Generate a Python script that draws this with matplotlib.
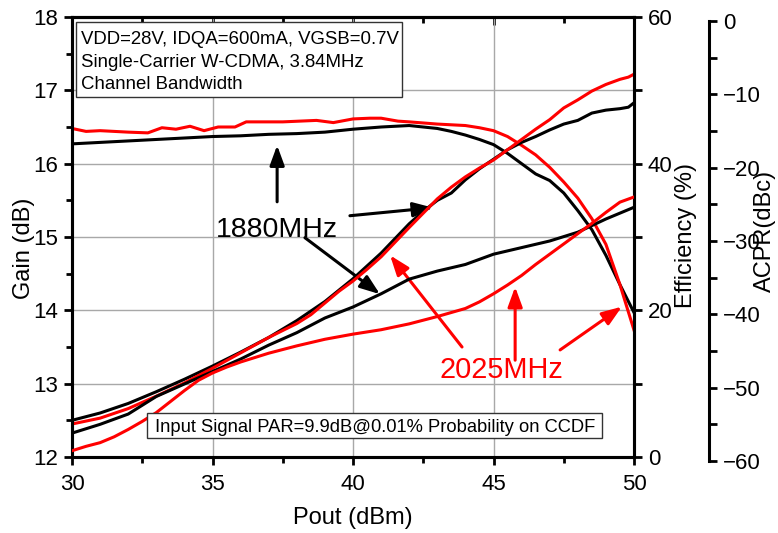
import matplotlib
matplotlib.use("Agg")
import matplotlib.pyplot as plt
from matplotlib.patches import Rectangle
from matplotlib.ticker import MultipleLocator

plt.rcParams['font.family'] = ['Liberation Sans', 'DejaVu Sans']

# ---------------- data ----------------
gain_1880_x = [30, 31, 32, 33, 34, 35, 36, 37, 38, 39, 40, 41, 42, 43, 43.5, 44, 44.5, 45,
               45.5, 46, 46.5, 47, 47.5, 48, 48.5, 49, 49.5, 50]
gain_1880 = [16.27, 16.29, 16.31, 16.33, 16.35, 16.37, 16.38, 16.40, 16.41, 16.43, 16.47, 16.50,
             16.52, 16.48, 16.44, 16.39, 16.33, 16.26, 16.14, 16.00, 15.86, 15.77, 15.60, 15.36,
             15.10, 14.75, 14.35, 13.97]

gain_2025_x = [30, 30.5, 31, 31.5, 32, 32.7, 33.2, 33.7, 34.2, 34.7, 35.2, 35.8, 36.2, 37.5,
               38.7, 39.3, 40, 40.6, 41, 41.6, 42, 43, 44, 44.5, 45, 45.5, 46, 46.5, 47, 47.5,
               48, 48.5, 49, 49.5, 50]
gain_2025 = [16.48, 16.44, 16.45, 16.44, 16.43, 16.42, 16.49, 16.47, 16.51, 16.45, 16.50, 16.50,
             16.57, 16.57, 16.59, 16.56, 16.61, 16.62, 16.62, 16.58, 16.57, 16.54, 16.52, 16.49,
             16.45, 16.37, 16.25, 16.12, 15.95, 15.75, 15.53, 15.25, 14.90, 14.35, 13.73]

eff_1880_x = [30, 31, 32, 33, 34, 35, 36, 37, 38, 39, 40, 41, 42, 42.5, 43, 43.5, 44, 44.5,
              45, 45.5, 46, 46.5, 47, 47.5, 48, 48.5, 49, 49.5, 49.8, 50]
eff_1880 = [5.0, 6.0, 7.3, 8.9, 10.6, 12.4, 14.3, 16.3, 18.6, 21.2, 24.3, 27.8, 31.8, 33.5,
            35.0, 36.0, 37.8, 39.3, 40.6, 41.9, 42.9, 43.7, 44.6, 45.4, 45.9, 46.9, 47.3,
            47.5, 47.7, 48.3]

eff_2025_x = [30, 31, 32, 33, 34, 35, 36, 37, 38, 38.5, 39, 39.5, 40, 40.5, 41, 42, 43, 43.5,
              44, 44.5, 45, 45.5, 46, 46.5, 47, 47.5, 48, 48.5, 49, 49.5, 49.8, 50]
eff_2025 = [4.5, 5.3, 6.6, 8.3, 10.1, 12.1, 14.2, 16.3, 18.2, 19.4, 21.0, 22.6, 24.0, 25.6,
            27.3, 31.3, 35.2, 36.8, 38.2, 39.4, 40.5, 41.9, 43.3, 44.7, 46.0, 47.6, 48.7,
            49.9, 50.8, 51.5, 51.8, 52.2]

acpr_1880_x = [30, 31, 32, 33, 34, 35, 36, 37, 38, 39, 40, 41, 42, 43, 44, 45, 46, 47, 48,
               48.5, 49, 49.5, 50]
acpr_1880 = [-56.2, -55.0, -53.6, -51.2, -49.5, -47.8, -46.1, -44.2, -42.5, -40.5, -39.0,
             -37.2, -35.2, -34.1, -33.2, -31.8, -30.9, -30.0, -28.8, -27.9, -27.0, -26.2, -25.4]

acpr_2025_x = [30, 30.5, 31, 31.5, 32, 32.5, 33, 33.5, 34, 34.5, 35, 35.5, 36, 37, 38, 39,
               40, 41, 42, 43, 44, 44.5, 45, 45.5, 46, 46.5, 47, 47.5, 48, 48.5, 49, 49.5, 50]
acpr_2025 = [-58.6, -58.0, -57.5, -56.7, -55.7, -54.6, -53.4, -51.9, -50.4, -49.0, -48.0,
             -47.2, -46.5, -45.3, -44.3, -43.4, -42.7, -42.1, -41.3, -40.3, -39.2, -38.3,
             -37.2, -36.0, -34.7, -33.2, -31.8, -30.4, -29.0, -27.6, -26.1, -24.7, -24.0]

label_1880 = "1880MHz"
label_2025 = "2025MHz"
note_lines = ["VDD=28V, IDQA=600mA, VGSB=0.7V", "Single-Carrier W-CDMA, 3.84MHz",
              "Channel Bandwidth"]
note_bottom = "Input Signal PAR=9.9dB@0.01% Probability on CCDF"
x_label = "Pout (dBm)"
gain_label = "Gain (dB)"
eff_label = "Efficiency (%)"
acpr_label = "ACPR(dBc)"

# ---------------- layout ----------------
W, H = 778, 533
fig = plt.figure(figsize=(W / 100, H / 100), dpi=100)
L, R, T, B = 72, 634, 17, 457
rect = [L / W, (H - B) / H, (R - L) / W, (B - T) / H]
ax = fig.add_axes(rect)
ax2 = ax.twinx()
shift = 4
ax3 = fig.add_axes([L / W, (H - B - shift) / H, (R - L) / W, (B - T) / H])

BLACK = '#000000'
RED = '#ff0000'
LW = 2.2
SP = 2.2
FS = 16
LFS = 17


def fx(px):
    return px / W


def fy(py):
    return 1 - py / H


# main gain axes
ax.set_xlim(30, 50)
ax.set_ylim(12, 18)
ax.plot(gain_1880_x, gain_1880, color=BLACK, lw=LW)
ax.plot(gain_2025_x, gain_2025, color=RED, lw=LW)
ax.xaxis.set_major_locator(MultipleLocator(5))
ax.xaxis.set_minor_locator(MultipleLocator(2.5))
ax.yaxis.set_major_locator(MultipleLocator(1))
ax.yaxis.set_minor_locator(MultipleLocator(0.5))
ax.grid(True, which='major', color='#a8a8a8', lw=1.0)
ax.set_axisbelow(True)
ax.tick_params(axis='both', which='major', direction='out', length=6, width=2, labelsize=FS, pad=4)
ax.tick_params(axis='both', which='minor', direction='out', length=4, width=2)
ax.tick_params(axis='x', which='major', pad=6)
for s in ax.spines.values():
    s.set_linewidth(SP)

sec = ax.secondary_xaxis('top')
sec.xaxis.set_major_locator(MultipleLocator(5))
sec.xaxis.set_minor_locator(MultipleLocator(2.5))
sec.tick_params(which='major', direction='in', length=6, width=2, labeltop=False)
sec.tick_params(which='minor', direction='in', length=4, width=2)
sec.spines['top'].set_linewidth(SP)

# efficiency axes
ax2.set_ylim(0, 60)
ax2.plot(eff_1880_x, eff_1880, color=BLACK, lw=LW)
ax2.plot(eff_2025_x, eff_2025, color=RED, lw=LW)
ax2.yaxis.set_major_locator(MultipleLocator(20))
ax2.yaxis.set_minor_locator(MultipleLocator(10))
ax2.tick_params(axis='y', which='major', direction='out', length=6, width=2, labelsize=FS, pad=4)
ax2.tick_params(axis='y', which='minor', direction='out', length=6, width=2)
for s in ax2.spines.values():
    s.set_linewidth(SP)

# ACPR axes
ax3.set_xlim(30, 50)
ax3.set_ylim(-60, 0)
ax3.patch.set_visible(False)
for k in ['left', 'top', 'bottom']:
    ax3.spines[k].set_visible(False)
ax3.spines['right'].set_position(('axes', (709 - L) / (R - L)))
ax3.spines['right'].set_linewidth(SP)
ax3.xaxis.set_visible(False)
ax3.yaxis.tick_right()
ax3.plot(acpr_1880_x, acpr_1880, color=BLACK, lw=LW)
ax3.plot(acpr_2025_x, acpr_2025, color=RED, lw=LW)
ax3.yaxis.set_major_locator(MultipleLocator(10))
ax3.yaxis.set_minor_locator(MultipleLocator(5))
ax3.tick_params(axis='y', which='major', direction='out', length=6, width=2, labelsize=FS, pad=4)
ax3.tick_params(axis='y', which='minor', direction='out', length=6, width=2)

# axis titles
fig.text(fx(353), fy(518), x_label, fontsize=LFS, ha='center', va='center')
fig.text(fx(24), fy(248), gain_label, fontsize=LFS, ha='center', va='center', rotation=90)
fig.text(fx(686), fy(235), eff_label, fontsize=LFS, ha='center', va='center', rotation=90)
fig.text(fx(765), fy(231), acpr_label, fontsize=LFS, ha='center', va='center', rotation=90)

# ---------------- annotations ----------------
def arrow(p_from, p_to, color):
    ax.annotate("", xy=p_to, xytext=p_from, xycoords='data', textcoords='data',
                arrowprops=dict(arrowstyle='-|>,head_length=0.6,head_width=0.22',
                                mutation_scale=20, color=color, lw=2.2,
                                shrinkA=0, shrinkB=0), zorder=6)


arrow((37.30, 15.48), (37.30, 16.25), BLACK)
arrow((39.89, 15.29), (42.85, 15.40), BLACK)
arrow((38.29, 14.99), (40.96, 14.22), BLACK)
arrow((43.88, 13.50), (41.32, 14.75), RED)
arrow((45.77, 13.32), (45.77, 14.32), RED)
arrow((47.37, 13.46), (49.57, 14.05), RED)

fig.text(fx(277), fy(237), label_1880, fontsize=20.5, color=BLACK, ha='center', va='baseline')
fig.text(fx(501), fy(378), label_2025, fontsize=20.8, color=RED, ha='center', va='baseline')

# top-left box
fig.patches.append(Rectangle((fx(76), fy(97)), fx(402) - fx(76), fy(22) - fy(97),
                             transform=fig.transFigure, facecolor='white',
                             edgecolor='#333333', lw=1.0, zorder=4))
for txt, base in zip(note_lines, [44, 67, 89]):
    fig.text(fx(81), fy(base), txt, fontsize=13.4, ha='left', va='baseline', zorder=5)

# bottom box
fig.patches.append(Rectangle((fx(147), fy(438)), fx(602) - fx(147), fy(413) - fy(438),
                             transform=fig.transFigure, facecolor='white',
                             edgecolor='#333333', lw=1.0, zorder=4))
fig.text(fx(155), fy(432), note_bottom, fontsize=13.2, ha='left', va='baseline', zorder=5)

fig.savefig("out.png", dpi=100)
